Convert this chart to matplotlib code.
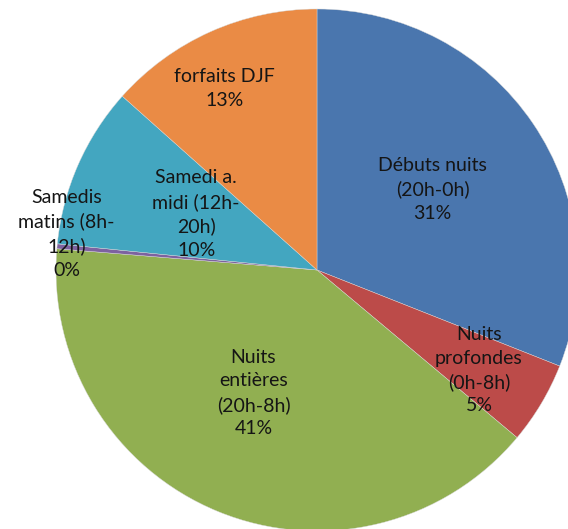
import numpy as np
import matplotlib
matplotlib.use("Agg")
import matplotlib.pyplot as plt

# shares (%), clockwise from 12 o'clock
categories = ["Débuts nuits\n(20h-0h)", "Nuits\nprofondes\n(0h-8h)", "Nuits\nentières\n(20h-8h)",
              "Samedis\nmatins (8h-\n12h)", "Samedi a.\nmidi (12h-\n20h)", "forfaits DJF"]
values = [31.0, 5.1, 40.2, 0.3, 10.0, 13.4]
pct_labels = ["31%", "5%", "41%", "0%", "10%", "13%"]
colors = ["#4A76AE", "#BC4B49", "#91AF51", "#7D62A0", "#43A6C0", "#EA8B45"]
# radial distance of each label from the centre (fraction of radius)
label_r = [0.54, 0.73, 0.53, 0.97, 0.51, 0.78]
label_shift = [0.7, -1.0, -5.0, -3.0, -1.1, 2.9]  # small angle tweak, degrees

W, H = 568, 529
cx, cy, R = 317, 270, 261

fig = plt.figure(figsize=(W / 100, H / 100), dpi=100)
ax = fig.add_axes([(cx - R) / W, (H - cy - R) / H, 2 * R / W, 2 * R / H])
ax.set_aspect("equal")
ax.axis("off")

wedges, _ = ax.pie(values, colors=colors, startangle=90, counterclock=False,
                   radius=1, wedgeprops=dict(linewidth=0.3, edgecolor="#d8d8d8"),
                   frame=False)
for w in wedges:
    w.set_clip_on(False)
ax.set_xlim(-1, 1)
ax.set_ylim(-1, 1)

for w, name, pct, r, sh in zip(wedges, categories, pct_labels, label_r, label_shift):
    mid = np.deg2rad((w.theta1 + w.theta2) / 2 + sh)
    ax.text(r * np.cos(mid), r * np.sin(mid), name + "\n" + pct,
            ha="center", va="center", fontsize=14, family=["Lato", "DejaVu Sans"],
            color="#151515", linespacing=1.45, multialignment="center")

fig.savefig("out.png", dpi=100)
